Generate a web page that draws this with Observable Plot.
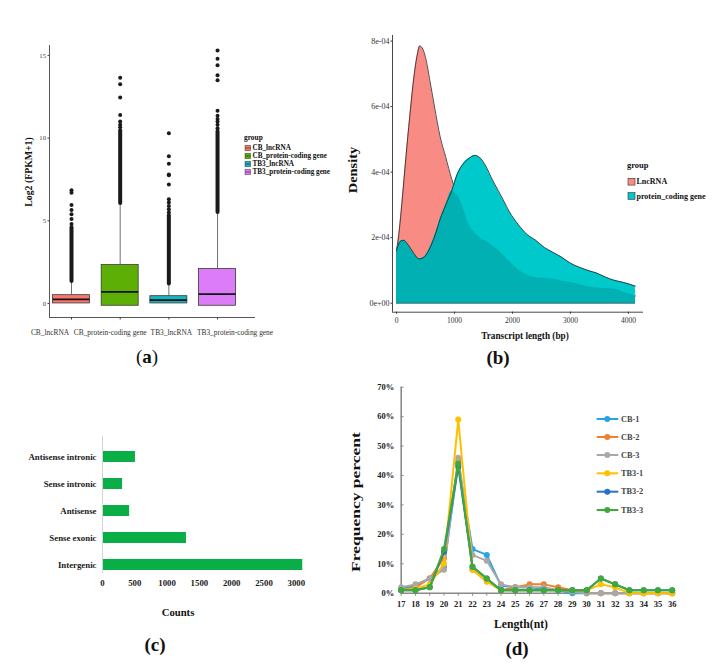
<!DOCTYPE html>
<html><head><meta charset="utf-8">
<script src="https://cdn.jsdelivr.net/npm/d3@7"></script>
<script src="https://cdn.jsdelivr.net/npm/@observablehq/plot@0.6"></script>
<style>
body{margin:0;background:#fff;}
#root{position:relative;width:723px;height:669px;overflow:hidden;background:#fff;}
#root svg{position:absolute;left:0;top:0;}
</style></head><body><div id="root"></div>
<script>
// ---------- (a) expression boxplots ----------
const boxGroups = ["CB_lncRNA","CB_protein-coding gene","TB3_lncRNA","TB3_protein-coding gene"];
const boxColors = ["#F8766D","#5DAF05","#12B5C1","#DC7CF8"];
const boxQ1 = [0, -0.14, 0, -0.14];
const boxMedian = [0.25, 0.7, 0.2, 0.56];
const boxQ3 = [0.5, 2.32, 0.44, 2.08];
const boxWhiskerHigh = [1.33, 6.05, 1.17, 5.5];
const denseOutlierTop = [4.6, 10.45, 5.3, 10.4];
const sparseOutliers = [
  [4.8, 5.1, 5.4, 5.65, 5.95, 6.7, 6.85],
  [10.65, 10.8, 11.0, 11.4, 12.45, 13.25, 13.65],
  [5.5, 5.7, 5.9, 6.1, 6.3, 7.2, 7.75, 7.8, 8.45, 8.9, 10.3],
  [10.6, 10.8, 11.0, 11.15, 11.35, 11.65, 13.5, 13.8, 14.4, 14.8, 15.3]
];
const aYTicks = [0, 5, 10, 15];

// ---------- (b) transcript length density (x 1e-4) ----------
const densLength = [0,40,80,130,180,240,300,360,400,440,500,580,660,750,850,950,1050,1150,1250,1350,1450,1550,1650,1750,1850,1950,2100,2250,2400,2550,2700,2850,3000,3150,3300,3450,3600,3750,3900,4120];
const densLnc = [1.6,2.1,2.8,3.8,4.8,5.9,6.9,7.6,7.85,7.8,7.5,6.75,5.95,5.1,4.45,3.8,3.3,2.9,2.4,2.15,1.98,1.88,1.76,1.62,1.45,1.27,1.02,0.86,0.78,0.76,0.73,0.68,0.63,0.57,0.5,0.46,0.45,0.43,0.34,0.22];
const densPc  = [1.6,1.82,1.9,1.92,1.83,1.68,1.52,1.38,1.35,1.37,1.45,1.7,2.05,2.55,3.0,3.42,3.95,4.25,4.42,4.51,4.42,4.15,3.78,3.45,3.12,2.78,2.4,2.1,1.92,1.7,1.55,1.4,1.22,1.1,1.0,0.92,0.8,0.7,0.64,0.52];
const densGroups = ["LncRNA","protein_coding gene"];
const densColors = ["#F98B85","#00C9CC"];
const bYTicks = [0,2,4,6,8];
const bXTicks = [0,1000,2000,3000,4000];

// ---------- (c) lncRNA classes ----------
const classNames = ["Antisense intronic","Sense intronic","Antisense","Sense exonic","Intergenic"];
const classCounts = [510, 310, 420, 1300, 3100];
const cXTicks = [0,500,1000,1500,2000,2500,3000];

// ---------- (d) small RNA length distribution ----------
const sLength = [17,18,19,20,21,22,23,24,25,26,27,28,29,30,31,32,33,34,35,36];
const sSeries = ["CB-1","CB-2","CB-3","TB3-1","TB3-2","TB3-3"];
const sColors = ["#2CA2E2","#F07F2E","#A8A8A8","#FFC000","#2B70C8","#3DAA3A"];
const sValues = [
  [1.5,2.5,5,9,44,15,13,2.5,2,2,1.5,1,0,0,0,0,0,0,0,0],
  [1,2,5,12,45,8,4,1,2,3,3,2,1,0,0,0,0,0,0,0],
  [2,3,5,8,46,13,11,3,2,2,2,1,0.5,0,0,0,0,0,0,0],
  [1,1.5,3,10,59,8,4,1,1,1,1,1,1,1,3,2,0,0,0,0],
  [1,1,2,14,43,9,5,1,1,1,1,1,1,1,5,3,1,1,1,1],
  [1,1,2,15,44,9,5,1,1,1,1,1,1,1,5,3,1,1,1,1]
];
const dYTicks = [0,10,20,30,40,50,60,70];

const FONT = '"Liberation Serif","Times New Roman",serif';
const root = document.getElementById("root");

// ===== Panel (a)
const boxTable = boxGroups.map((g,i)=>({i:i+1, g, q1:boxQ1[i], med:boxMedian[i], q3:boxQ3[i], wh:boxWhiskerHigh[i], dense:denseOutlierTop[i], color:boxColors[i]}));
const outTable = sparseOutliers.flatMap((arr,i)=>arr.map(v=>({i:i+1, v})));
const HW = 0.38;
const aX = [0.548, 4.78], aY = [-0.85, 15.6];
const plotA = Plot.plot({
  width:723, height:669, marginLeft:49, marginRight:468, marginTop:45, marginBottom:352,
  x:{domain:aX, axis:null}, y:{domain:aY, axis:null}, color:{type:"identity"},
  style:{background:"transparent", fontFamily:FONT, fontSize:"6.7px", color:"#444", overflow:"visible"},
  marks:[
    Plot.ruleX(boxTable,{x:"i", y1:"q3", y2:"wh", stroke:"#333", strokeWidth:0.7}),
    Plot.ruleX(boxTable,{x:"i", y1:"wh", y2:"dense", stroke:"#1a1a1a", strokeWidth:4, strokeLinecap:"round"}),
    Plot.dot(outTable,{x:"i", y:"v", r:2, fill:"#1a1a1a"}),
    Plot.rect(boxTable,{x1:d=>d.i-HW, x2:d=>d.i+HW, y1:"q1", y2:"q3", fill:"color", stroke:"#3a3a3a", strokeWidth:0.8}),
    Plot.ruleY(boxTable,{y:"med", x1:d=>d.i-HW, x2:d=>d.i+HW, stroke:"#111", strokeWidth:1.8}),
    Plot.ruleX([aX[0]],{stroke:"#444", strokeWidth:0.9}),
    Plot.ruleY([aY[0]],{stroke:"#444", strokeWidth:0.9}),
    Plot.axisY({ticks:aYTicks, tickSize:1.5, tickPadding:2, label:null}),
    Plot.axisX({ticks:boxTable.map(d=>d.i), tickSize:2.5, tickFormat:()=>"", label:null})
  ]
});
root.appendChild(plotA);

// ===== Panel (b)
const densTable = densLength.map((len,i)=>({len, lnc:densLnc[i], pc:densPc[i]}));
const bX = [-69, 4259], bY = [-0.275, 8.17];
const curve = "monotone-x";
const plotB = Plot.plot({
  width:723, height:669, marginLeft:392, marginRight:80, marginTop:35, marginBottom:357.3,
  x:{domain:bX, axis:null}, y:{domain:bY, axis:null},
  style:{background:"transparent", fontFamily:FONT, fontSize:"8px", color:"#333", overflow:"visible"},
  marks:[
    Plot.areaY(densTable,{x:"len", y:"lnc", fill:densColors[0], curve}),
    Plot.lineY(densTable,{x:"len", y:"lnc", stroke:"#222", strokeWidth:0.8, curve}),
    Plot.areaY(densTable,{x:"len", y:"pc", fill:densColors[1], curve}),
    Plot.areaY(densTable,{x:"len", y:d=>Math.min(d.lnc,d.pc), fill:"#00B0B3", curve}),
    Plot.lineY(densTable,{x:"len", y:"pc", stroke:"#222", strokeWidth:0.8, curve}),
    Plot.ruleY([0],{x1:densLength[0], x2:densLength[densLength.length-1], stroke:"#2a7a7c", strokeWidth:1.2}),
    Plot.ruleX([bX[0]],{stroke:"#333", strokeWidth:0.9}),
    Plot.ruleY([bY[0]],{stroke:"#333", strokeWidth:0.9}),
    Plot.axisY({ticks:bYTicks, tickFormat:d=>d===0?"0e+00":d+"e-04", tickSize:1.5, tickPadding:1.5, label:null}),
    Plot.axisX({ticks:bXTicks, tickFormat:d=>String(d), tickSize:2, tickPadding:3, fontSize:7.5, label:null})
  ]
});
root.appendChild(plotB);

// ===== Panel (c)
const classTable = classNames.map((c,i)=>({cat:c, count:classCounts[i]}));
const plotC = Plot.plot({
  width:723, height:669, marginLeft:102, marginRight:414.3, marginTop:436, marginBottom:96,
  x:{domain:[0,3200], axis:null},
  y:{type:"band", domain:classNames, range:[441.1,579.9], paddingInner:0.6, paddingOuter:0.3, axis:null},
  style:{background:"transparent", fontFamily:FONT, fontSize:"8.8px", fontWeight:"bold", color:"#1a1a1a", overflow:"visible"},
  marks:[
    Plot.barX(classTable,{x:"count", y:"cat", fill:"#0AAE47"}),
    Plot.ruleX([0],{stroke:"#d4d4d4", strokeWidth:1}),
    Plot.axisY({tickSize:0, tickPadding:6, label:null}),
    Plot.axisX({ticks:cXTicks, tickFormat:d=>String(d), tickSize:0, tickPadding:6, label:null})
  ]
});
root.appendChild(plotC);

// ===== Panel (d)
const dMarks = [
  Plot.ruleX([sLength[0]],{stroke:"#8a8a8a", strokeWidth:1.6}),
  Plot.ruleY([0],{stroke:"#8a8a8a", strokeWidth:1.6}),
  Plot.ruleY(dYTicks,{x1:sLength[0], x2:sLength[0]+0.2, stroke:"#8a8a8a", strokeWidth:1}),
  Plot.axisY({ticks:dYTicks, tickFormat:d=>d+"%", tickSize:0, tickPadding:7, label:null}),
  Plot.axisX({ticks:sLength, tickSize:3, tickPadding:5, stroke:"#8a8a8a", label:null})
];
sSeries.forEach((s,k)=>{
  const rows = sLength.map((len,i)=>({len, v:sValues[k][i]}));
  dMarks.push(Plot.line(rows,{x:"len", y:"v", stroke:sColors[k], strokeWidth:2}));
  dMarks.push(Plot.dot(rows,{x:"len", y:"v", fill:sColors[k], r:3}));
});
const plotD = Plot.plot({
  width:723, height:669, marginLeft:400.7, marginRight:48, marginTop:386.7, marginBottom:76.3,
  x:{domain:[17,36], range:[400.7,671.7], axis:null}, y:{domain:[0,70], axis:null},
  style:{background:"transparent", fontFamily:FONT, fontSize:"8.5px", fontWeight:"bold", color:"#222", overflow:"visible"},
  marks:dMarks
});
root.appendChild(plotD);

// ===== Overlay: titles, legends, panel letters
const ov = d3.select(root).append("svg").attr("width",723).attr("height",669)
  .style("font-family",FONT).style("overflow","visible");
function txt(x,y,s,o={}){
  const t = ov.append("text")
    .attr("transform",`translate(${x},${y})`+(o.rotate?` rotate(${o.rotate})`:"")+(o.stretch?` scale(${o.stretch},1)`:""))
    .attr("text-anchor",o.anchor||"middle").attr("dominant-baseline","central")
    .attr("font-size",o.size||10).attr("font-weight",o.weight||"normal")
    .attr("fill",o.fill||"#111").text(s);
  return t;
}
// (a)
txt(28,172,"Log2 (FPKM+1)",{rotate:-90,size:9.8,weight:"bold"});
const sxA = plotA.scale("x");
const aLabelShift = [-21,-9.5,3,18];
boxGroups.forEach((g,i)=>txt(sxA.apply(i+1)+aLabelShift[i],332,g,{size:7.4,fill:"#333"}));
txt(244,137,"group",{anchor:"start",size:7.4,weight:"bold"});
boxGroups.forEach((g,i)=>{
  const y = 148 + i*8;
  ov.append("rect").attr("x",245).attr("y",y-2.8).attr("width",5.6).attr("height",5.6)
    .attr("fill",boxColors[i]).attr("stroke","#444").attr("stroke-width",0.5);
  ov.append("line").attr("x1",245).attr("x2",250.6).attr("y1",y).attr("y2",y).attr("stroke","#222").attr("stroke-width",0.6);
  txt(252.5,y,g,{anchor:"start",size:7.2,weight:"bold"});
});
const la = txt(147,356,"",{size:19});
la.append("tspan").text("(");
la.append("tspan").attr("font-weight","bold").text("a");
la.append("tspan").text(")");
// (b)
txt(353,170,"Density",{rotate:-90,size:12,weight:"bold",stretch:1.2});
txt(525,335,"Transcript length (bp)",{size:11,weight:"bold",stretch:0.84});
txt(627,165,"group",{anchor:"start",size:8.5,weight:"bold"});
densGroups.forEach((g,i)=>{
  const y = 181.7 + i*14.3;
  ov.append("rect").attr("x",628).attr("y",y-3.4).attr("width",7).attr("height",6.8)
    .attr("fill",densColors[i]).attr("stroke","#333").attr("stroke-width",0.6);
  txt(636.5,y,g,{anchor:"start",size:8,weight:"bold"});
});
txt(498,357,"(b)",{size:19,weight:"bold"});
// (c)
txt(178,612,"Counts",{size:10.7,weight:"bold"});
txt(155,644,"(c)",{size:19,weight:"bold"});
// (d)
txt(355.7,502,"Frequency percent",{rotate:-90,size:12,weight:"bold",stretch:1.46});
txt(521,624,"Length(nt)",{size:11.7,weight:"bold"});
txt(517,648,"(d)",{size:19,weight:"bold"});
const legY = [419,437,455,473.3,491.7,510];
sSeries.forEach((s,k)=>{
  const y = legY[k];
  ov.append("line").attr("x1",596.7).attr("x2",618.3).attr("y1",y).attr("y2",y).attr("stroke",sColors[k]).attr("stroke-width",2);
  ov.append("circle").attr("cx",607.3).attr("cy",y).attr("r",3).attr("fill",sColors[k]);
  txt(621,y,s,{anchor:"start",size:8.3,weight:"bold",fill:"#444"});
});
</script></body></html>
